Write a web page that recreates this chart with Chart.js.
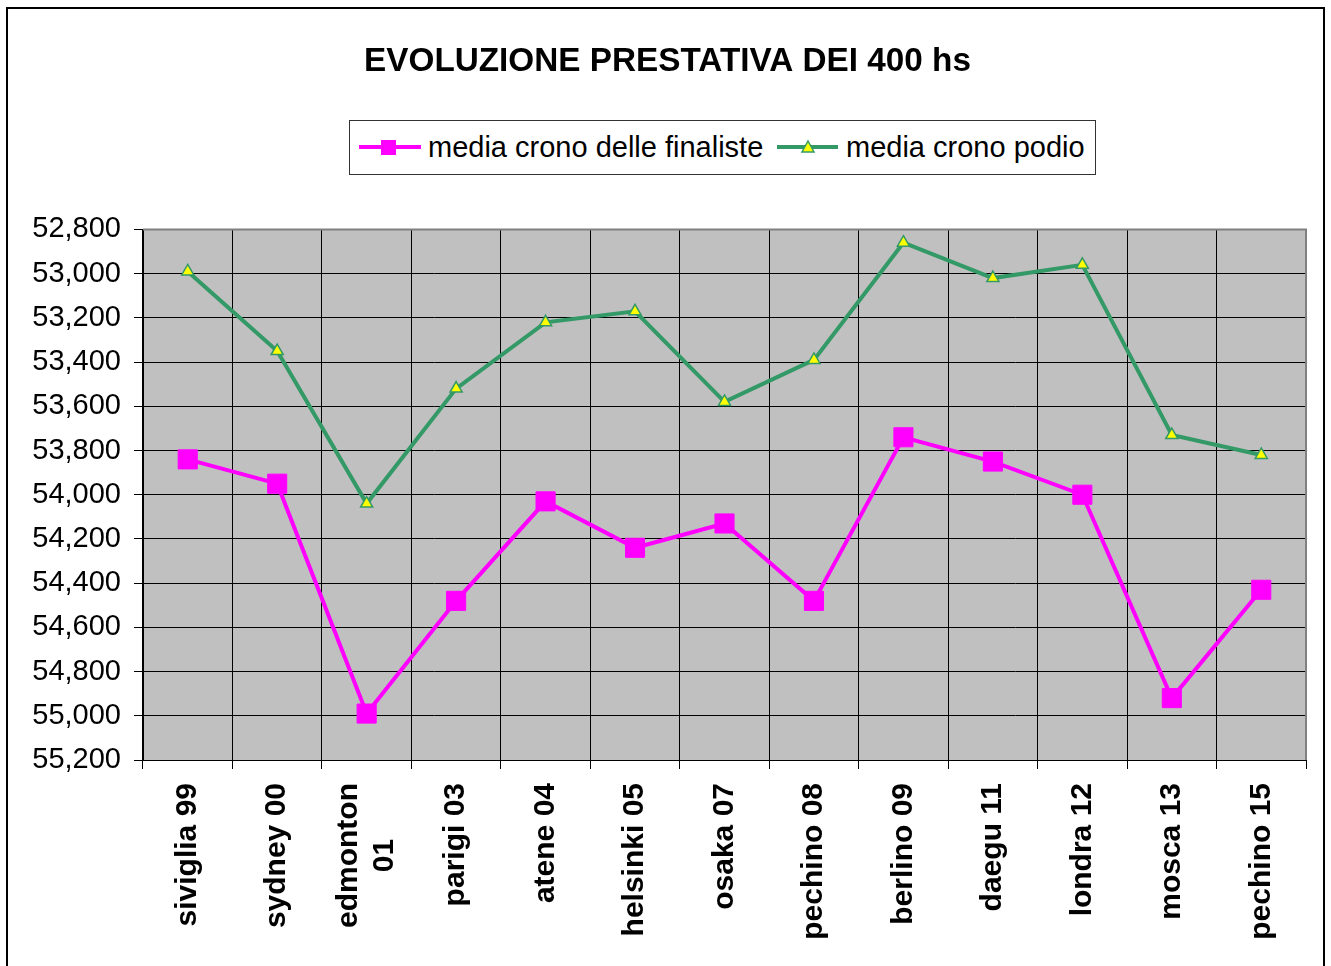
<!DOCTYPE html>
<html>
<head>
<meta charset="utf-8">
<script src="https://cdn.jsdelivr.net/npm/chart.js@4.4.1/dist/chart.umd.min.js"></script>
<style>
  html, body { margin: 0; padding: 0; background: #fff; }
  #wrap { position: relative; width: 1331px; height: 966px; overflow: hidden; }
  #frame { position: absolute; left: 6px; top: 7px; width: 1319px; height: 990px; border: 2px solid #000; box-sizing: border-box; }
  #chart { position: absolute; left: 0; top: 0; }
  #legend { position: absolute; left: 349px; top: 120px; width: 747px; height: 55px; border: 1px solid #333;
            box-sizing: border-box; background: #fff; font: 29px "Liberation Sans", Arial, sans-serif; color: #000; }
  #legend span.txt { position: absolute; top: 0; line-height: 53px; white-space: nowrap; }
  #legend .ln { position: absolute; top: 24px; height: 4px; }
</style>
</head>
<body>
<div id="wrap">
  <div id="frame"></div>
  <canvas id="chart" width="1331" height="966"></canvas>
  <div id="legend">
    <div class="ln" style="left:9px;width:62px;background:#ff00ff"></div>
    <div style="position:absolute;left:31px;top:19px;width:15px;height:15px;background:#ff00ff"></div>
    <span class="txt" style="left:78px">media crono delle finaliste</span>
    <div class="ln" style="left:427px;width:61px;background:#339966"></div>
    <svg style="position:absolute;left:450px;top:18px" width="16" height="16">
      <polygon points="8,2 14,13 2,13" fill="#ffff00" stroke="#339966" stroke-width="1.5"/>
    </svg>
    <span class="txt" style="left:496px">media crono podio</span>
  </div>
</div>
<script>
// dati
const categorie = ['siviglia 99', 'sydney 00', ['edmonton', '01'], 'parigi 03', 'atene 04', 'helsinki 05',
  'osaka 07', 'pechino 08', 'berlino 09', 'daegu 11', 'londra 12', 'mosca 13', 'pechino 15'];
const mediaFinaliste = [53.84, 53.95, 54.99, 54.48, 54.03, 54.24, 54.13, 54.48, 53.74, 53.85, 54.00, 54.92, 54.43];
const mediaPodio = [52.99, 53.35, 54.04, 53.52, 53.22, 53.17, 53.58, 53.39, 52.86, 53.02, 52.96, 53.73, 53.82];
const yMin = 52.8, yMax = 55.2, yStep = 0.2;

Chart.defaults.font.family = '"Liberation Sans", Arial, sans-serif';
Chart.defaults.color = '#000';

// sfondo grigio dell'area del grafico + bordo
const plotArea = {
  id: 'plotArea',
  beforeDraw(chart) {
    const { ctx, chartArea: a } = chart;
    ctx.save();
    ctx.fillStyle = '#c0c0c0';
    ctx.fillRect(a.left, a.top, a.right - a.left, a.bottom - a.top);

    // etichette su due righe: centrate sulla categoria e allineate al centro
    chart.scales.x.getLabelItems().forEach(item => {
      if (Array.isArray(item.label) && item.label.length > 1) {
        item.textOffset -= (item.label.length - 1) * item.font.lineHeight / 2;
        ctx.font = item.font.string;
        const w = Math.max(...item.label.map(t => ctx.measureText(t).width));
        item.options.textAlign = 'center';
        item.options.translation[1] += w / 2;
      }
    });
    ctx.restore();
  },
  beforeDatasetsDraw(chart) {
    const { ctx, chartArea: a } = chart;
    ctx.save();
    ctx.strokeStyle = '#808080';
    ctx.lineWidth = 2;
    ctx.beginPath();
    ctx.moveTo(a.left, a.top);
    ctx.lineTo(a.right, a.top);
    ctx.lineTo(a.right, a.bottom);
    ctx.stroke();
    ctx.restore();
  }
};

new Chart(document.getElementById('chart'), {
  type: 'line',
  data: {
    labels: categorie,
    datasets: [{
      label: 'media crono delle finaliste',
      data: mediaFinaliste,
      borderColor: '#ff00ff',
      borderWidth: 4,
      pointStyle: 'rect',
      pointRadius: 13.5,
      pointBackgroundColor: '#ff00ff',
      pointBorderColor: '#ff00ff',
      pointBorderWidth: 1,
      tension: 0
    }, {
      label: 'media crono podio',
      data: mediaPodio,
      borderColor: '#339966',
      borderWidth: 4,
      pointStyle: 'triangle',
      pointRadius: 7,
      pointBackgroundColor: '#ffff00',
      pointBorderColor: '#339966',
      pointBorderWidth: 1.5,
      tension: 0
    }]
  },
  options: {
    responsive: false,
    animation: false,
    layout: { padding: { left: 29, right: 25, top: 0, bottom: 0 } },
    plugins: {
      legend: { display: false },
      tooltip: { enabled: false },
      title: {
        display: true,
        text: 'EVOLUZIONE PRESTATIVA DEI 400 hs',
        font: { size: 33.3, weight: 'bold' },
        color: '#000',
        padding: { top: 41.5, bottom: 148 }
      }
    },
    scales: {
      x: {
        offset: true,
        grid: { offset: true, color: '#000', lineWidth: 1, tickLength: 9 },
        border: { color: '#000' },
        ticks: { font: { size: 30, weight: 'bold' }, color: '#000', maxRotation: 90, minRotation: 90, padding: 14, autoSkip: false },
        afterFit: s => { s.height = 206; }
      },
      y: {
        reverse: true,
        min: yMin,
        max: yMax,
        grid: { color: '#000', lineWidth: 1, tickLength: 9 },
        border: { color: '#000' },
        ticks: {
          stepSize: yStep,
          font: { size: 29 },
          color: '#000',
          padding: 13,
          callback: v => v.toFixed(3).replace('.', ',')
        },
        afterFit: s => { s.width = 114; }
      }
    }
  },
  plugins: [plotArea]
});
</script>
</body>
</html>
